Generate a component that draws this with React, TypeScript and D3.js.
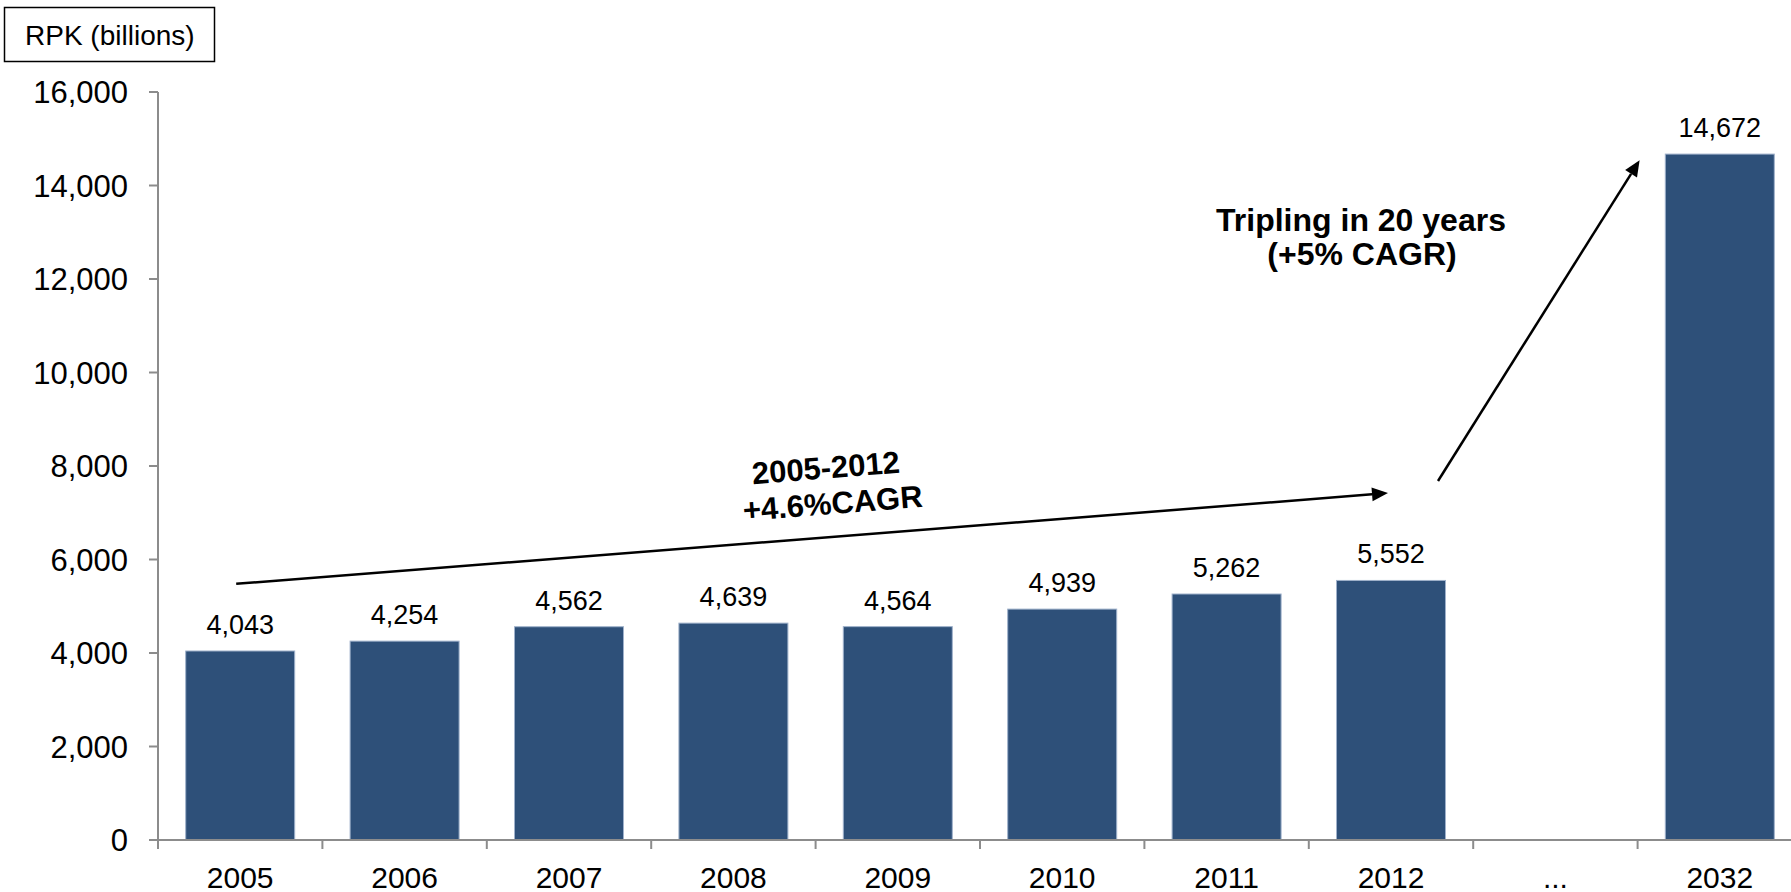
import React, { useEffect } from "react";
import * as d3 from "d3";

const categories = ["2005", "2006", "2007", "2008", "2009", "2010", "2011", "2012", "...", "2032"];
const values: (number | null)[] = [4043, 4254, 4562, 4639, 4564, 4939, 5262, 5552, null, 14672];
const yTicks = [0, 2000, 4000, 6000, 8000, 10000, 12000, 14000, 16000];
const unitLabel = "RPK (billions)";
const histNote = ["2005-2012", "+4.6%CAGR"];
const fcstNote = ["Tripling in 20 years", "(+5% CAGR)"];

const W = 1791;
const H = 892;
const FONT = "'Liberation Sans', Arial, Helvetica, sans-serif";
const BAR = "#2E5079";
const AXIS = "#8c8c8c";

export default function App() {
  useEffect(() => {
    document.body.style.margin = "0";
    document.body.style.overflow = "hidden";
  }, []);

  const x = d3.scaleBand<string>().domain(categories).range([158, 1802]).paddingInner(0.337).paddingOuter(0.1685);
  const y = d3.scaleLinear().domain([0, 16000]).range([840, 92]);
  const step = x.step();
  const bw = x.bandwidth();
  const cx = (c: string) => (x(c) as number) + bw / 2;
  const bandStart = (c: string) => (x(c) as number) - (step - bw) / 2;
  const fmt = d3.format(",");

  // annotation anchors in data space
  const a1s: [number, number] = [cx("2005") - 4, y(5480)];
  const a1e: [number, number] = [cx("2012") - 3, y(7420)];
  const a2s: [number, number] = [cx("2012") + 47, y(7680)];
  const a2e: [number, number] = [bandStart("2032") + 2, y(14540)];

  const arrow = (s: [number, number], e: [number, number], key: string) => {
    const ang = Math.atan2(e[1] - s[1], e[0] - s[0]);
    const L = 16, Wd = 7;
    const bx = e[0] - L * Math.cos(ang), by = e[1] - L * Math.sin(ang);
    const px = -Math.sin(ang) * Wd, py = Math.cos(ang) * Wd;
    const pts = [[e[0], e[1]], [bx + px, by + py], [bx - px, by - py]];
    return (
      <g key={key}>
        <line x1={s[0]} y1={s[1]} x2={bx} y2={by} stroke="#000" strokeWidth={2.5} />
        <polygon points={pts.map((p) => p.join(",")).join(" ")} fill="#000" />
      </g>
    );
  };

  const ang1 = (Math.atan2(a1e[1] - a1s[1], a1e[0] - a1s[0]) * 180) / Math.PI;
  const t1x = (cx("2008") + cx("2009")) / 2 + 12;
  const t1y = y(7480);

  return (
    <svg width={W} height={H} style={{ position: "absolute", left: 0, top: 0, background: "#fff" }} fontFamily={FONT}>
      {/* unit box */}
      <rect x={4.5} y={7.5} width={210} height={54} fill="#fff" stroke="#000" strokeWidth={1.5} />
      <text x={25} y={45} fontSize={28} fill="#000">{unitLabel}</text>

      {/* y axis */}
      <line x1={158} x2={158} y1={y(16000)} y2={y(0)} stroke={AXIS} strokeWidth={2} />
      {yTicks.map((t) => (
        <g key={t}>
          <line x1={149} x2={158} y1={y(t)} y2={y(t)} stroke={AXIS} strokeWidth={2} />
          <text x={128} y={y(t)} dy="0.36em" textAnchor="end" fontSize={31} fill="#000">{fmt(t)}</text>
        </g>
      ))}

      {/* bars */}
      {categories.map((c, i) =>
        values[i] == null ? null : (
          <g key={c}>
            <rect x={x(c)} y={y(values[i] as number)} width={bw} height={y(0) - y(values[i] as number)} fill={BAR} stroke="#9fb1cb" strokeWidth={1} />
            <text x={cx(c)} y={y(values[i] as number) - 17} textAnchor="middle" fontSize={27} fill="#000">{fmt(values[i] as number)}</text>
          </g>
        )
      )}

      {/* x axis */}
      <line x1={149} x2={W} y1={y(0)} y2={y(0)} stroke={AXIS} strokeWidth={2} />
      {categories.map((c) => (
        <line key={"t" + c} x1={bandStart(c)} x2={bandStart(c)} y1={y(0)} y2={y(0) + 9} stroke={AXIS} strokeWidth={2} />
      ))}
      {categories.map((c) => (
        <text key={"l" + c} x={cx(c)} y={888} textAnchor="middle" fontSize={30} fill="#000">{c}</text>
      ))}

      {/* annotations */}
      {arrow(a1s, a1e, "a1")}
      {arrow(a2s, a2e, "a2")}
      <g transform={`translate(${t1x},${t1y}) rotate(${ang1})`}>
        <text x={0} y={-12} textAnchor="middle" fontSize={31} fontWeight="bold" fill="#000">{histNote[0]}</text>
        <text x={4} y={24} textAnchor="middle" fontSize={31} fontWeight="bold" fill="#000">{histNote[1]}</text>
      </g>
      <text x={1361} y={231} textAnchor="middle" fontSize={32} fontWeight="bold" fill="#000">{fcstNote[0]}</text>
      <text x={1362} y={265} textAnchor="middle" fontSize={32} fontWeight="bold" fill="#000">{fcstNote[1]}</text>
    </svg>
  );
}
